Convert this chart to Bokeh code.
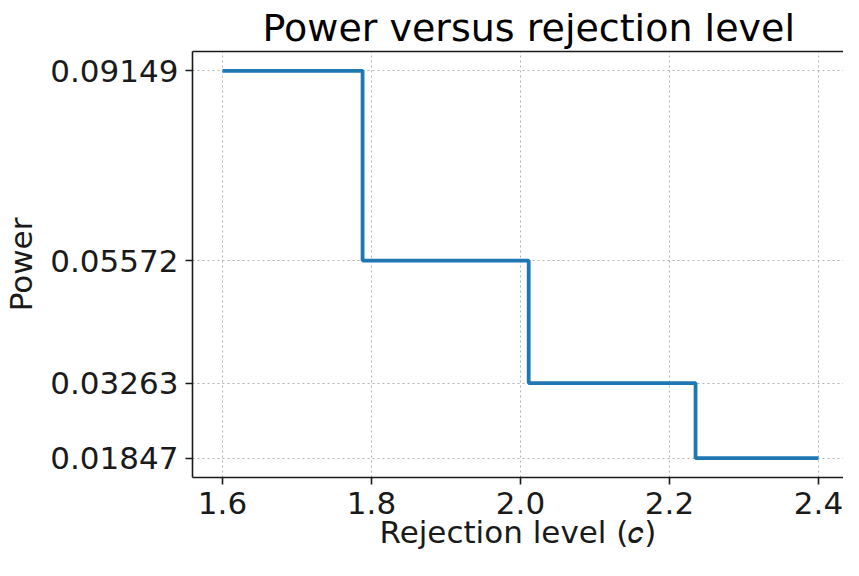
from bokeh.plotting import figure
from bokeh.models import FixedTicker, PrintfTickFormatter, Range1d, LinearAxis
from bokeh.embed import file_html
from bokeh.resources import INLINE

# Data
c_edges = [1.6, 1.788, 2.011, 2.235, 2.4]
power_levels = [0.09149, 0.05572, 0.03263, 0.01847]
x_ticks = [1.6, 1.8, 2.0, 2.2, 2.4]
y_ticks = sorted(power_levels)

FONT = "DejaVu Sans"
TXT = "#1a1a1a"

x0, x1 = 1.5597, 2.4336
y0, y1 = 0.014819, 0.095141

p = figure(width=843, height=560, output_backend="svg", toolbar_location=None,
           x_range=Range1d(x0, x1), y_range=Range1d(y0, y1),
           min_border_left=192, min_border_right=0, min_border_top=51,
           min_border_bottom=83, title="Power versus rejection level")

p.step(x=c_edges, y=power_levels + [power_levels[-1]], mode="after",
       line_width=3.8, line_color="#1f77b4")

p.title.text_font = FONT
p.title.text_font_size = "38px"
p.title.text_font_style = "normal"
p.title.align = "left"
p.title.offset = 70
p.title.text_color = "#000000"
p.title.standoff = 4

p.outline_line_color = None

for ax in (p.xaxis[0], p.yaxis[0]):
    ax.axis_line_width = 1.6
    ax.axis_line_color = TXT
    ax.major_tick_line_width = 1.6
    ax.major_tick_line_color = TXT
    ax.major_tick_out = 7
    ax.major_tick_in = 0
    ax.minor_tick_line_color = None
    ax.major_label_text_font = FONT
    ax.major_label_text_font_size = "31px"
    ax.major_label_text_color = TXT
    ax.axis_label_text_font = FONT
    ax.axis_label_text_font_size = "31px"
    ax.axis_label_text_font_style = "normal"
    ax.axis_label_text_color = TXT

p.xaxis[0].ticker = FixedTicker(ticks=x_ticks)
p.xaxis[0].formatter = PrintfTickFormatter(format="%.1f")
p.xaxis[0].axis_label = "Rejection level (𝑐)"
p.xaxis[0].major_label_standoff = 7
p.xaxis[0].axis_label_standoff = -3

p.yaxis[0].ticker = FixedTicker(ticks=y_ticks)
p.yaxis[0].formatter = PrintfTickFormatter(format="%.5f")
p.yaxis[0].axis_label = "Power"
p.yaxis[0].major_label_standoff = 7
p.yaxis[0].axis_label_standoff = 8

top = LinearAxis(ticker=FixedTicker(ticks=[]), major_label_text_font_size="0px",
                 axis_line_width=1.6, axis_line_color=TXT,
                 major_tick_out=0, major_tick_in=0, minor_tick_line_color=None,
                 major_label_standoff=0, axis_label_standoff=0)
p.add_layout(top, "above")

p.grid.grid_line_color = "#b0b0b0"
p.grid.grid_line_dash = "2 3"
p.grid.grid_line_width = 1
p.xgrid.ticker = FixedTicker(ticks=x_ticks)
p.ygrid.ticker = FixedTicker(ticks=y_ticks)

p.background_fill_color = "white"
p.border_fill_color = "white"

open("out.html", "w").write(file_html(p, INLINE))
